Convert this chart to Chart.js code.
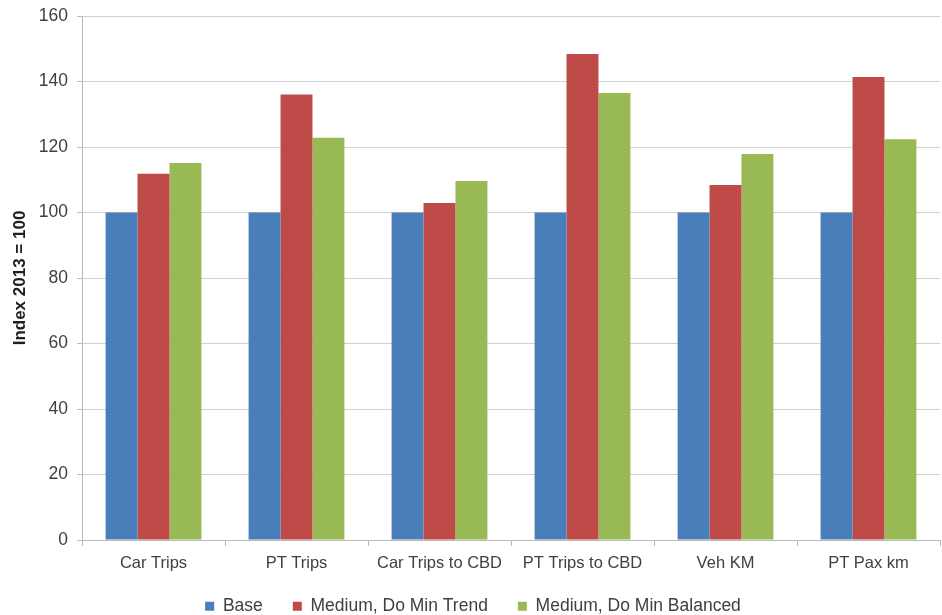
<!DOCTYPE html>
<html>
<head>
<meta charset="utf-8">
<script src="https://cdn.jsdelivr.net/npm/chart.js@4/dist/chart.umd.min.js"></script>
<style>
  html, body { margin: 0; padding: 0; background: #ffffff; overflow: hidden; }
  #wrap { width: 942px; height: 625px; position: relative; }
</style>
</head>
<body>
<div id="wrap"><canvas id="c"></canvas></div>
<script>
const categories = ["Car Trips", "PT Trips", "Car Trips to CBD", "PT Trips to CBD", "Veh KM", "PT Pax km"];
const baseValues = [100, 100, 100, 100, 100, 100];
const trendValues = [111.8, 136.0, 102.9, 148.4, 108.4, 141.4];
const balancedValues = [115.1, 122.8, 109.6, 136.5, 117.9, 122.4];
const yTicks = [0, 20, 40, 60, 80, 100, 120, 140, 160];

const FONT = "'Liberation Sans', Arial, sans-serif";

// let x tick labels extend below the (compact) axis box instead of being clipped
Chart.CategoryScale.prototype._computeLabelArea = function () { return undefined; };

new Chart(document.getElementById('c'), {
  type: 'bar',
  data: {
    labels: categories,
    datasets: [
      { label: 'Base', data: baseValues, backgroundColor: '#4a7ebb' },
      { label: 'Medium, Do Min Trend', data: trendValues, backgroundColor: '#be4b48' },
      { label: 'Medium, Do Min Balanced', data: balancedValues, backgroundColor: '#98b954' }
    ]
  },
  options: {
    responsive: true,
    maintainAspectRatio: false,
    animation: false,
    layout: { padding: { top: 16, right: 2, bottom: 0, left: 6 } },
    datasets: { bar: { categoryPercentage: 0.67, barPercentage: 1.0 } },
    plugins: {
      tooltip: { enabled: false },
      legend: {
        position: 'bottom',
        labels: {
          boxWidth: 9, boxHeight: 9, padding: 30,
          color: '#404040',
          font: { family: FONT, size: 17.5 }
        }
      }
    },
    scales: {
      x: {
        grid: { offset: true, drawOnChartArea: false, drawTicks: true, tickLength: 6, color: '#b8b8b8' },
        border: { color: '#b8b8b8' },
        ticks: { color: '#404040', font: { family: FONT, size: 16.5 }, padding: 8 },
        afterFit: (a) => { a.height = 27.5; }
      },
      y: {
        min: 0, max: 160,
        afterBuildTicks: (a) => { a.ticks = yTicks.map(v => ({ value: v })); },
        grid: { color: '#d0d0d0', drawTicks: true, tickLength: 5, tickColor: '#b8b8b8' },
        border: { color: '#b8b8b8' },
        ticks: { color: '#404040', font: { family: FONT, size: 17.5 }, padding: 9 },
        title: { display: true, text: 'Index 2013 = 100', color: '#202020', font: { family: FONT, size: 17, weight: 'bold' }, padding: { top: 4, bottom: 0 } },
        afterFit: (a) => { a.width = 76; a.paddingTop = 0; a.paddingBottom = 0; }
      }
    }
  }
});
</script>
</body>
</html>
